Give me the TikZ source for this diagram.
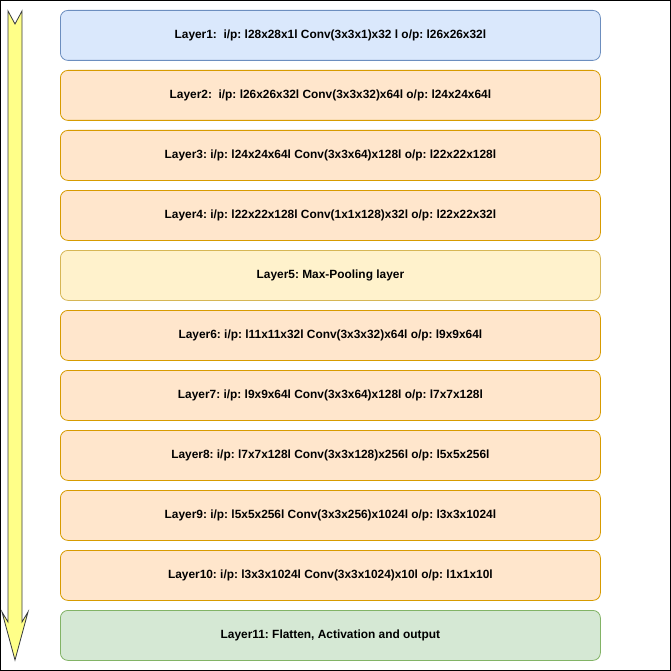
\documentclass[tikz,border=0pt]{standalone}
\usepackage{fontspec}
\setmainfont{Liberation Sans}
\frenchspacing
\definecolor{bluefill}{HTML}{DAE8FC}\definecolor{bluedraw}{HTML}{6C8EBF}
\definecolor{orfill}{HTML}{FFE6CC}\definecolor{ordraw}{HTML}{D79B00}
\definecolor{yefill}{HTML}{FFF2CC}\definecolor{yedraw}{HTML}{D6B656}
\definecolor{grfill}{HTML}{D5E8D4}\definecolor{grdraw}{HTML}{82B366}
\definecolor{arrfill}{HTML}{FFFF88}\definecolor{arrdraw}{HTML}{36393D}
\begin{document}
\begin{tikzpicture}[x=1pt,y=-1pt,
  layer/.style={rounded corners=7.5pt, minimum width=540pt, minimum height=50pt,
    inner sep=0pt, line width=0.8pt, font=\fontsize{11.9}{14}\selectfont\bfseries\frenchspacing, anchor=north west},
  blue/.style={layer, fill=bluefill, draw=bluedraw},
  orange/.style={layer, fill=orfill, draw=ordraw},
  yel/.style={layer, fill=yefill, draw=yedraw},
  green/.style={layer, fill=grfill, draw=grdraw}]
\useasboundingbox (0,0) rectangle (671,671);
\draw[line width=1pt] (0.5,0.5) rectangle (670.5,670.5);
% flow arrow
\filldraw[fill=arrfill, draw=arrdraw, line width=0.8pt, line join=miter]
  (8,11) -- (15,24) -- (22,11) -- (22,622) -- (28,612) -- (15,660) -- (2,612) -- (8,622) -- cycle;
\node[blue]   (l1)  at (60,10)  {Layer1:\ \ i/p: l28x28x1l Conv(3x3x1)x32 l o/p: l26x26x32l};
\node[orange] (l2)  at (60,70)  {Layer2:\ \ i/p: l26x26x32l Conv(3x3x32)x64l o/p: l24x24x64l};
\node[orange] (l3)  at (60,130) {Layer3: i/p: l24x24x64l Conv(3x3x64)x128l o/p: l22x22x128l};
\node[orange] (l4)  at (60,190) {Layer4: i/p: l22x22x128l Conv(1x1x128)x32l o/p: l22x22x32l};
\node[yel]    (l5)  at (60,250) {Layer5: Max-Pooling layer};
\node[orange] (l6)  at (60,310) {Layer6: i/p: l11x11x32l Conv(3x3x32)x64l o/p: l9x9x64l};
\node[orange] (l7)  at (60,370) {Layer7: i/p: l9x9x64l Conv(3x3x64)x128l o/p: l7x7x128l};
\node[orange] (l8)  at (60,430) {Layer8: i/p: l7x7x128l Conv(3x3x128)x256l o/p: l5x5x256l};
\node[orange] (l9)  at (60,490) {Layer9: i/p: l5x5x256l Conv(3x3x256)x1024l o/p: l3x3x1024l};
\node[orange] (l10) at (60,550) {Layer10: i/p: l3x3x1024l Conv(3x3x1024)x10l o/p: l1x1x10l};
\node[green]  (l11) at (60,610) {Layer11: Flatten, Activation and output};
\end{tikzpicture}
\end{document}
